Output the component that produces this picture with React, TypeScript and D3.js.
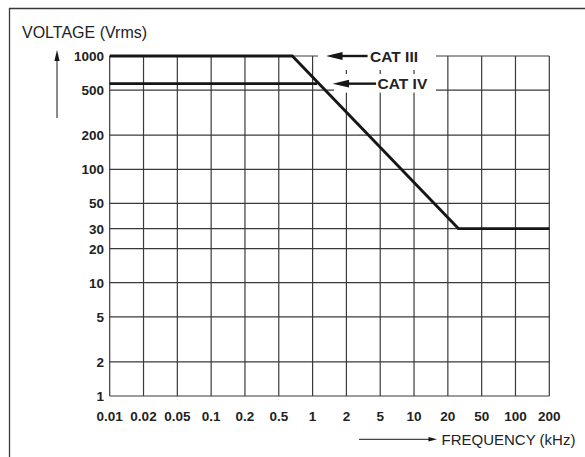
import * as d3 from "d3";
import React from "react";

// frequency ticks (kHz) - drawn evenly spaced 1-2-5 steps
const xTicks = [0.01, 0.02, 0.05, 0.1, 0.2, 0.5, 1, 2, 5, 10, 20, 50, 100, 200];
const xTickLabels = ["0.01", "0.02", "0.05", "0.1", "0.2", "0.5", "1", "2", "5", "10", "20", "50", "100", "200"];
// voltage ticks (Vrms)
const yTicks = [1, 2, 5, 10, 20, 30, 50, 100, 200, 500, 1000];
const yTickLabels = ["1", "2", "5", "10", "20", "30", "50", "100", "200", "500", "1000"];

type Pt = { f: number; v: number };
const catIII: Pt[] = [
  { f: 0.01, v: 1000 },
  { f: 0.66, v: 1000 },
  { f: 26.6, v: 30 },
  { f: 200, v: 30 },
];
const catIV: Pt[] = [
  { f: 0.01, v: 570 },
  { f: 1.1, v: 570 },
];

const W = 585;
const H = 457;
const FONT = "'Liberation Sans', Arial, Helvetica, sans-serif";
const GRID = "#3a3a3a";
const INK = "#161616";

export default function App() {
  const left = 109.7;
  const right = 549.3;
  const top = 56;
  const bottom = 396;

  const step = (right - left) / (xTicks.length - 1);
  // piecewise log: each 1-2-5 interval gets the same width
  const x = d3
    .scaleLog()
    .domain(xTicks)
    .range(xTicks.map((_, i) => left + i * step));
  const y = d3.scaleLog().domain([1, 1000]).range([bottom, top]);

  const line = d3
    .line<Pt>()
    .x((d) => x(d.f))
    .y((d) => y(d.v));

  const x1 = x(1);
  const y1000 = y(1000);
  const y570 = y(570);

  return (
    <div style={{ position: "fixed", left: 0, top: 0 }}>
      <svg width={W} height={H} style={{ display: "block", background: "#fff" }}>
        {/* frame */}
        <line x1={9} y1={8.5} x2={W} y2={8.5} stroke={GRID} strokeWidth={1.3} />
        <line x1={9.5} y1={8} x2={9.5} y2={H} stroke={GRID} strokeWidth={1.3} />

        <text x={22} y={38} fontFamily={FONT} fontSize={16} fill="#222">
          VOLTAGE (Vrms)
        </text>

        {/* up arrow */}
        <line x1={57} y1={118} x2={57} y2={58} stroke={INK} strokeWidth={1} />
        <path d="M57,50 L59.6,61 L54.4,61 Z" fill={INK} />

        {/* grid */}
        <g stroke={GRID} strokeWidth={1.2}>
          {xTicks.map((t) => (
            <line key={"vx" + t} x1={x(t)} x2={x(t)} y1={top} y2={bottom} />
          ))}
          {yTicks.map((t) => (
            <line key={"hy" + t} x1={left} x2={right} y1={y(t)} y2={y(t)} />
          ))}
        </g>

        {/* label backgrounds hiding grid */}
        <rect x={318} y={46} width={118} height={24} fill="#fff" />
        <rect x={334} y={74} width={102} height={18.6} fill="#fff" />

        {/* data lines */}
        <path d={line(catIII) ?? ""} fill="none" stroke={INK} strokeWidth={2.8} strokeLinejoin="miter" />
        <path d={line(catIV) ?? ""} fill="none" stroke={INK} strokeWidth={2.8} />

        {/* tick labels */}
        <g fontFamily={FONT} fontWeight="bold" fontSize={13.5} fill="#222">
          {yTicks.map((t, i) => (
            <text key={"yl" + t} x={104} y={y(t) + 5} textAnchor="end">
              {yTickLabels[i]}
            </text>
          ))}
          {xTicks.map((t, i) => (
            <text key={"xl" + t} x={x(t)} y={421} textAnchor="middle">
              {xTickLabels[i]}
            </text>
          ))}
        </g>

        {/* CAT III annotation */}
        <line x1={x1 + 28} y1={y1000} x2={x1 + 55} y2={y1000} stroke={INK} strokeWidth={2.4} />
        <path d={`M${x1 + 13.5},${y1000} L${x1 + 30},${y1000 - 3.9} L${x1 + 30},${y1000 + 3.9} Z`} fill={INK} />
        <text x={x1 + 57.5} y={y1000 + 5.5} fontFamily={FONT} fontWeight="bold" fontSize={15.5} fill="#222">
          CAT III
        </text>

        {/* CAT IV annotation */}
        <line x1={x1 + 34} y1={y570} x2={x1 + 63.5} y2={y570} stroke={INK} strokeWidth={2.4} />
        <path d={`M${x1 + 20},${y570} L${x1 + 36.5},${y570 - 3.9} L${x1 + 36.5},${y570 + 3.9} Z`} fill={INK} />
        <text x={x1 + 65} y={y570 + 5.5} fontFamily={FONT} fontWeight="bold" fontSize={15.5} fill="#222">
          CAT IV
        </text>

        {/* frequency arrow */}
        <line x1={359} y1={439.3} x2={430} y2={439.3} stroke={INK} strokeWidth={1} />
        <path d="M437,439.3 L428.5,441.5 L428.5,437.1 Z" fill={INK} />
        <text x={441.5} y={444.5} fontFamily={FONT} fontSize={15} fill="#222">
          FREQUENCY (kHz)
        </text>
      </svg>
    </div>
  );
}
